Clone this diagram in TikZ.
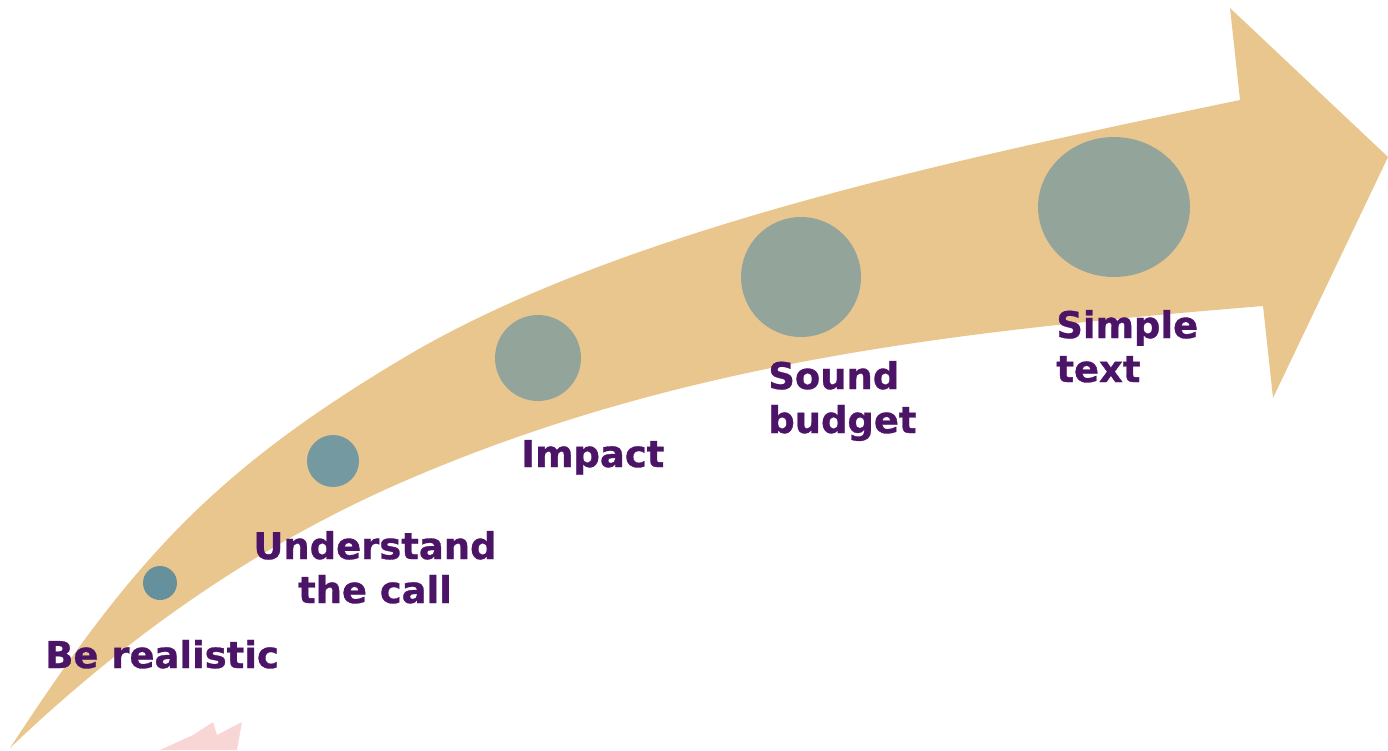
\documentclass[tikz,border=0pt]{standalone}
\usepackage{fontspec}
\setmainfont{DejaVu Sans}[BoldFeatures={FakeBold=0.8}]
\usetikzlibrary{shapes.geometric}
\definecolor{arrowc}{HTML}{EAC68F}
\definecolor{dotA}{HTML}{67909D}
\definecolor{dotB}{HTML}{7499A0}
\definecolor{dotC}{HTML}{93A59B}
\definecolor{labc}{HTML}{4B1466}
\definecolor{wmark}{HTML}{F9D6D6}
\tikzset{
  dot/.style={circle, inner sep=0pt, draw=none},
  lab/.style={text=labc, inner sep=0pt, font=\bfseries\fontsize{21}{25}\selectfont},
}
\begin{document}
\begin{tikzpicture}[x=0.02cm, y=-0.02cm]
\useasboundingbox (0,0) rectangle (1388,750);
% faint watermark fragment
\fill[wmark] (160,750) -- (193,735) -- (213,722) -- (217,735) -- (242,722) -- (237,750) -- cycle;
% curved arrow
\fill[arrowc]
  (10,748) .. controls (131,563) and (211,473) .. (400,360)
  .. controls (614,231) and (956,159) .. (1240,100)
  -- (1230,8) -- (1388,157) -- (1273,398) -- (1263,306)
  .. controls (971,330) and (684,359) .. (400,483)
  .. controls (254,547) and (125,638) .. (10,748)
  -- cycle;
% circles
\node[dot, fill=dotA, minimum size=0.68cm] (c1) at (160,583) {};
\node[dot, fill=dotB, minimum size=1.04cm] (c2) at (333,461) {};
\node[dot, fill=dotC, minimum size=1.72cm] (c3) at (538,358) {};
\node[dot, fill=dotC, minimum size=2.4cm] (c4) at (801,277) {};
\node[ellipse, inner sep=0pt, fill=dotC, minimum width=3.04cm, minimum height=2.8cm] (c5) at (1114,207) {};
% labels
\node[lab, anchor=base west] (t1) at (45,668) {Be realistic};
\node[lab, anchor=base, align=center] (t2) at (375,603) {Understand\\the call};
\node[lab, anchor=base west] (t3) at (521,467) {Impact};
\node[lab, anchor=base west, align=left] (t4) at (768,433) {Sound\\budget};
\node[lab, anchor=base west, align=left] (t5) at (1056,382) {Simple\\text};
\end{tikzpicture}
\end{document}
